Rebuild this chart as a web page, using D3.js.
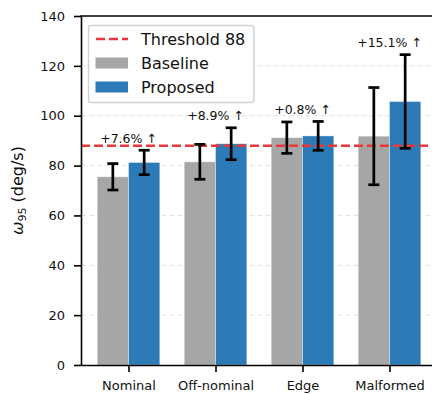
<!DOCTYPE html>
<html>
<head>
<meta charset="utf-8">
<script src="https://cdn.jsdelivr.net/npm/d3@7"></script>
<style>
  html, body { margin: 0; padding: 0; background: #fff; }
  svg { display: block; }
  text { font-family: "DejaVu Sans", sans-serif; fill: #111; }
</style>
</head>
<body>
<svg id="chart" width="432" height="394"></svg>
<script>
// Scenario categories and per-method angular-rate 95th percentile (deg/s)
const categories = ["Nominal", "Off-nominal", "Edge", "Malformed"];
const baseline = [75.5, 81.5, 91.2, 91.8];
const baselineErr = [5.3, 7.0, 6.3, 19.5];
const proposed = [81.25, 88.75, 91.9, 105.7];
const proposedErr = [4.9, 6.4, 5.8, 18.8];
const threshold = 88;
const yTicks = [0, 20, 40, 60, 80, 100, 120, 140];

const colors = { baseline: "#a6a6a6", proposed: "#2c7bb6", threshold: "#e8383b" };
const barW = 0.36;

const svg = d3.select("#chart");
const plotLeft = 81, plotTop = 16, plotBottom = 365;

const x = d3.scaleLinear().domain([-0.546, 3.546]).range([plotLeft, plotLeft + 4.092 * 87]);
const y = d3.scaleLinear().domain([0, 140]).range([plotBottom, plotTop]);

// dashed horizontal grid
svg.append("g")
  .selectAll("line")
  .data(yTicks.filter(d => d > 0))
  .join("line")
  .attr("x1", x.range()[0]).attr("x2", x.range()[1])
  .attr("y1", d => y(d)).attr("y2", d => y(d))
  .attr("stroke", "#e3e3e3").attr("stroke-width", 1)
  .attr("stroke-dasharray", "5,3");

// bars
const series = [
  { key: "baseline", vals: baseline, errs: baselineErr, off: -barW / 2 },
  { key: "proposed", vals: proposed, errs: proposedErr, off: barW / 2 }
];

series.forEach(s => {
  svg.append("g")
    .selectAll("rect")
    .data(s.vals)
    .join("rect")
    .attr("x", (d, i) => x(i + s.off - barW / 2))
    .attr("width", x(barW) - x(0))
    .attr("y", d => y(d))
    .attr("height", d => y(0) - y(d))
    .attr("fill", colors[s.key])
    .attr("stroke", "#ffffff").attr("stroke-opacity", 0.5).attr("stroke-width", 0.8);
});

// threshold line
svg.append("line")
  .attr("x1", x.range()[0]).attr("x2", x.range()[1])
  .attr("y1", y(threshold)).attr("y2", y(threshold))
  .attr("stroke", colors.threshold).attr("stroke-width", 2.5)
  .attr("stroke-dasharray", "9,4");

// error bars
series.forEach(s => {
  const g = svg.append("g").attr("stroke", "#000").attr("stroke-width", 2.7);
  s.vals.forEach((v, i) => {
    const cx = x(i + s.off);
    const hi = y(v + s.errs[i]), lo = y(v - s.errs[i]);
    g.append("line").attr("x1", cx).attr("x2", cx).attr("y1", hi).attr("y2", lo);
    g.append("line").attr("x1", cx - 5.5).attr("x2", cx + 5.5).attr("y1", hi).attr("y2", hi);
    g.append("line").attr("x1", cx - 5.5).attr("x2", cx + 5.5).attr("y1", lo).attr("y2", lo);
  });
});

// improvement annotations
svg.append("g")
  .selectAll("text")
  .data(categories)
  .join("text")
  .attr("x", (d, i) => x(i))
  .attr("y", (d, i) => y(Math.max(baseline[i] + baselineErr[i], proposed[i] + proposedErr[i]) + 3))
  .attr("text-anchor", "middle")
  .attr("font-size", "12.5px")
  .text((d, i) => {
    const pct = (proposed[i] / baseline[i] - 1) * 100;
    return (pct >= 0 ? "+" : "") + pct.toFixed(1) + "% " + (pct >= 0 ? "\u2191" : "\u2193");
  });

// axes
const yAxis = svg.append("g")
  .attr("transform", `translate(${plotLeft},0)`)
  .call(d3.axisLeft(y).tickValues(yTicks).tickSize(7).tickPadding(9).tickSizeOuter(0));
const xAxis = svg.append("g")
  .attr("transform", `translate(0,${plotBottom})`)
  .call(d3.axisBottom(x).tickValues([0, 1, 2, 3]).tickFormat(i => categories[i])
        .tickSize(7).tickPadding(9).tickSizeOuter(0));
[yAxis, xAxis].forEach(a => {
  a.select(".domain").attr("stroke", "#000").attr("stroke-width", 1.6);
  a.selectAll(".tick line").attr("stroke", "#000").attr("stroke-width", 1.6);
  a.selectAll(".tick text").attr("font-size", "13px").attr("font-family", "DejaVu Sans").attr("fill", "#111");
});
// top spine
svg.append("line")
  .attr("x1", x.range()[0] - 0.8).attr("x2", x.range()[1])
  .attr("y1", plotTop).attr("y2", plotTop)
  .attr("stroke", "#000").attr("stroke-width", 1.6);

// y-axis title
const yt = svg.append("text")
  .attr("transform", `translate(23,${(plotTop + plotBottom) / 2}) rotate(-90)`)
  .attr("text-anchor", "middle")
  .attr("font-size", "16px");
yt.append("tspan").attr("font-style", "italic").text("\u03c9");
yt.append("tspan").attr("font-size", "11px").attr("dy", "3").text("95");
yt.append("tspan").attr("dy", "-3").text(" (deg/s)");

// legend
const lg = svg.append("g");
lg.append("rect")
  .attr("x", 88.5).attr("y", 25.5).attr("width", 165.5).attr("height", 77)
  .attr("rx", 3).attr("fill", "#fff").attr("fill-opacity", 0.85)
  .attr("stroke", "#d2d2d2").attr("stroke-width", 1.5);
const items = [
  { label: "Threshold " + threshold, type: "line", color: colors.threshold },
  { label: "Baseline", type: "rect", color: colors.baseline },
  { label: "Proposed", type: "rect", color: colors.proposed }
];
items.forEach((it, k) => {
  const cy = 39 + k * 24;
  if (it.type === "line") {
    lg.append("line").attr("x1", 96).attr("x2", 128).attr("y1", cy).attr("y2", cy)
      .attr("stroke", it.color).attr("stroke-width", 2.5).attr("stroke-dasharray", "9,4");
  } else {
    lg.append("rect").attr("x", 95.5).attr("y", cy - 5.5).attr("width", 32.5).attr("height", 11)
      .attr("fill", it.color);
  }
  lg.append("text").attr("x", 141).attr("y", cy + 6).attr("font-size", "16px").text(it.label);
});
</script>
</body>
</html>
